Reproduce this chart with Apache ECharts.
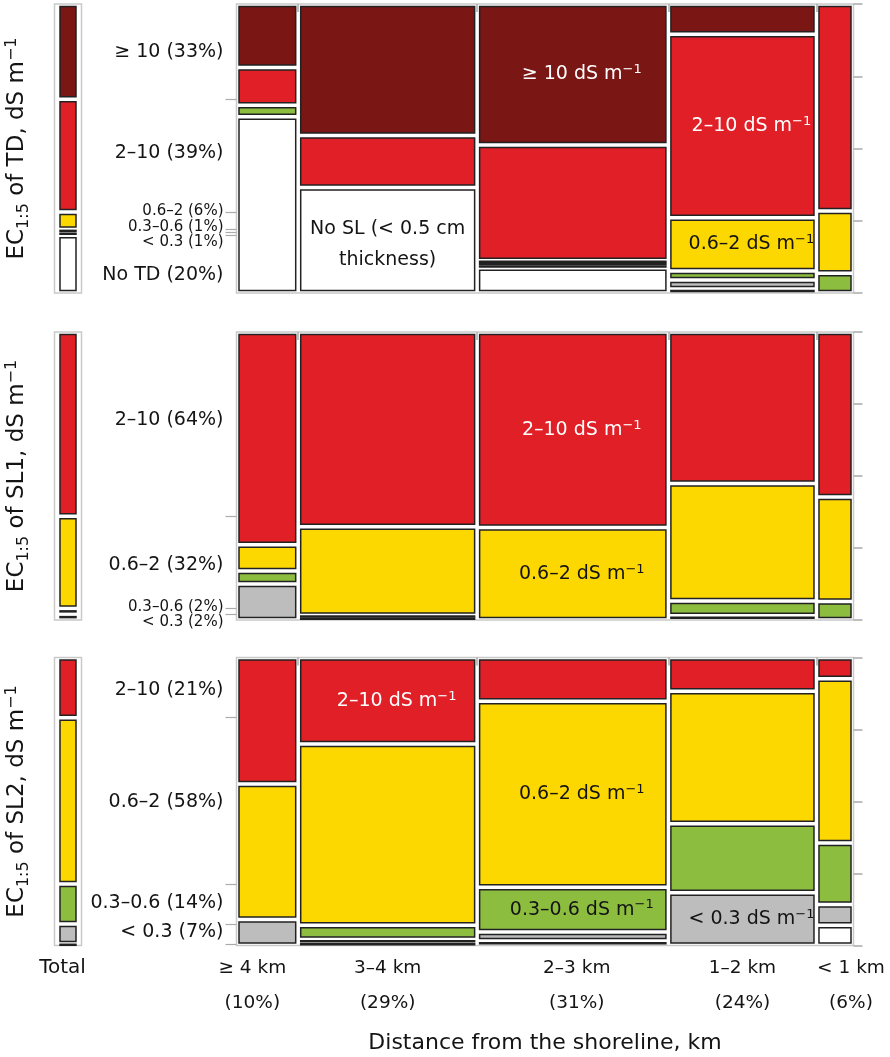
<!DOCTYPE html>
<html>
<head>
<meta charset="utf-8">
<script src="https://cdn.jsdelivr.net/npm/echarts@6/dist/echarts.min.js"></script>
<style>
  html, body { margin: 0; padding: 0; background: #ffffff; }
  #chart { width: 890px; height: 1057px; }
</style>
</head>
<body>
<div id="chart"></div>
<script>
// Distance classes from the shoreline and their share of the sampled area (%)
const columnNames = ["≥ 4 km", "3–4 km", "2–3 km", "1–2 km", "< 1 km"];
const columnShares = [10, 29, 31, 24, 6];

// EC1:5 of the top deposit (TD), share of each class within every distance column (%)
const tdClasses = ["≥ 10", "2–10", "0.6–2", "0.3–0.6", "< 0.3", "No TD"];
const tdTotal = [33, 39, 6, 1, 1, 20];
const tdGe10 = [22, 45.5, 48.8, 10.5, 0];
const td2to10 = [13, 18, 40, 63.5, 71.6];
const td06to2 = [0, 0, 0.8, 18.5, 21.6];
const td03to06 = [4, 0, 0.8, 3.1, 6.8];
const tdBelow03 = [0, 0, 0.9, 3.1, 0];
const tdNone = [61, 36.5, 8.7, 1.4, 0];

// EC1:5 of soil layer 1 (SL1)
const sl1Classes = ["2–10", "0.6–2", "0.3–0.6", "< 0.3"];
const sl1Total = [64, 32, 2, 2];
const sl1From2to10 = [73.9, 67.6, 67.9, 52.6, 57.3];
const sl1From06to2 = [9.1, 30.8, 32.1, 40.8, 36.3];
const sl1From03to06 = [4.5, 0.8, 0, 5.1, 6.4];
const sl1Below03 = [12.5, 0.8, 0, 1.5, 0];

// EC1:5 of soil layer 2 (SL2)
const sl2Classes = ["2–10", "0.6–2", "0.3–0.6", "< 0.3", "No SL"];
const sl2Total = [21, 58, 14, 7, 0.5];
const sl2From2to10 = [43.9, 30, 15.2, 11.7, 7.4];
const sl2From06to2 = [47.1, 63, 64.5, 46, 57];
const sl2From03to06 = [0, 4.9, 15.5, 24, 21.4];
const sl2Below03 = [9, 1.2, 3.1, 18.3, 7.2];
const sl2None = [0, 0.9, 1.6, 0, 7];

// ---- styling ----
const FONT = "DejaVu Sans";
const INK = "#141414";
const FRAME = "#c9c9c9";
const TICK = "#ababab";
const EDGE = "#222222";
const GAP = 5;
const DARK_RED = "#7a1614", RED = "#e11f26", YELLOW = "#fdd700",
      GREEN = "#8cbd3f", GREY = "#bdbdbd", WHITE = "#ffffff";

const panels = [
  {
    key: "TD", classes: tdClasses, total: tdTotal,
    byClass: [tdGe10, td2to10, td06to2, td03to06, tdBelow03, tdNone],
    colors: [DARK_RED, RED, YELLOW, GREEN, GREY, WHITE],
    labelled: 6, small: [2, 3, 4], nudges: [0, -3, -10, -4, 8, 11],
    top: 4, height: 289
  },
  {
    key: "SL1", classes: sl1Classes, total: sl1Total,
    byClass: [sl1From2to10, sl1From06to2, sl1From03to06, sl1Below03],
    colors: [RED, YELLOW, GREEN, GREY],
    labelled: 4, small: [2, 3], nudges: [-4, 3, -4, 5],
    top: 332, height: 288
  },
  {
    key: "SL2", classes: sl2Classes, total: sl2Total,
    byClass: [sl2From2to10, sl2From06to2, sl2From03to06, sl2Below03, sl2None],
    colors: [RED, YELLOW, GREEN, GREY, WHITE],
    labelled: 4, small: [], nudges: [2, 1, -1, -2],
    top: 657.5, height: 288
  }
];

// Text written inside individual cells
const cellNotes = [
  { panel: 0, col: 2, cls: 0, text: "≥ 10 dS m", sup: "−1", color: "#ffffff" },
  { panel: 0, col: 1, cls: 5, text: "No SL (< 0.5 cm\nthickness)", color: INK, lineHeight: 31 },
  { panel: 0, col: 3, cls: 1, text: "2–10 dS m", sup: "−1", color: "#ffffff" },
  { panel: 0, col: 3, cls: 2, text: "0.6–2 dS m", sup: "−1", color: INK },
  { panel: 1, col: 2, cls: 0, text: "2–10 dS m", sup: "−1", color: "#ffffff" },
  { panel: 1, col: 2, cls: 1, text: "0.6–2 dS m", sup: "−1", color: INK },
  { panel: 2, col: 1, cls: 0, text: "2–10 dS m", sup: "−1", color: "#ffffff" },
  { panel: 2, col: 2, cls: 1, text: "0.6–2 dS m", sup: "−1", color: INK },
  { panel: 2, col: 2, cls: 2, text: "0.3–0.6 dS m", sup: "−1", color: INK },
  { panel: 2, col: 3, cls: 3, text: "< 0.3 dS m", sup: "−1", color: INK }
];

// horizontal nudges for the distance labels under the narrow outer columns
const columnLabelNudges = [-15, 0, 4, 0, 16];

// ---- helpers ----
function spans(values) {
  const sum = values.reduce((a, b) => a + b, 0);
  let acc = 0;
  return values.map(v => {
    const s = acc / sum;
    acc += v;
    return [s, acc / sum, v];
  });
}
const columnSpans = spans(columnShares);
const columnBoundaries = columnSpans.slice(0, -1).map(s => s[1]);

function noteRich(note) {
  const lines = note.text.split("\n");
  return lines.map((l, i) => "{b|" + l + "}" +
    (i === lines.length - 1 && note.sup ? "{s|" + note.sup + "}" : "")).join("\n");
}

function cellRenderer(panelIndex, isTotal) {
  const p = panels[panelIndex];
  return function (params, api) {
    const col = api.value(0), cls = api.value(1);
    const vals = isTotal ? p.total : p.byClass.map(a => a[col]);
    const ys = spans(vals)[cls];
    if (!(ys[2] > 0)) return { type: "group", children: [] };
    const xs = isTotal ? [0, 1] : columnSpans[col];
    const a = api.coord([xs[0], ys[0]]);
    const b = api.coord([xs[1], ys[1]]);
    const x0 = Math.min(a[0], b[0]) + GAP / 2, x1 = Math.max(a[0], b[0]) - GAP / 2;
    let y0 = Math.min(a[1], b[1]) + GAP / 2, y1 = Math.max(a[1], b[1]) - GAP / 2;
    if (y1 - y0 < 1) {
      const m = (a[1] + b[1]) / 2;
      y0 = m - 0.5; y1 = m + 0.5;
    }
    const children = [{
      type: "rect",
      shape: { x: x0, y: y0, width: x1 - x0, height: y1 - y0 },
      style: { fill: p.colors[cls], stroke: EDGE, lineWidth: 1.5 }
    }];
    if (!isTotal) {
      const note = cellNotes.find(n => n.panel === panelIndex && n.col === col && n.cls === cls);
      if (note) {
        const lh = note.lineHeight || 22;
        children.push({
          type: "text",
          x: (x0 + x1) / 2 + (note.sup ? 9 : 0),
          y: (y0 + y1) / 2 + (note.lineHeight ? 4 : 0),
          z2: 10,
          style: {
            text: noteRich(note),
            align: "center", verticalAlign: "middle",
            fill: note.color,
            rich: {
              b: { fontSize: 19, fontFamily: FONT, fill: note.color, lineHeight: lh },
              s: { fontSize: 13, fontFamily: FONT, fill: note.color, lineHeight: 13, verticalAlign: "top" }
            }
          }
        });
      }
    }
    return { type: "group", children: children };
  };
}

function classLabelRenderer(panelIndex) {
  const p = panels[panelIndex];
  return function (params, api) {
    const i = api.value(0);
    const ys = spans(p.total)[i];
    const pt = api.coord([0, (ys[0] + ys[1]) / 2]);
    const small = p.small.indexOf(i) >= 0;
    return {
      type: "text",
      x: pt[0] - 13,
      y: pt[1] + p.nudges[i],
      style: {
        text: p.classes[i] + " (" + p.total[i] + "%)",
        align: "right", verticalAlign: "middle",
        fill: INK, fontFamily: FONT, fontSize: small ? 15 : 19
      }
    };
  };
}

function columnLabelRenderer(params, api) {
  const i = api.value(0);
  const s = columnSpans[i];
  const pt = api.coord([(s[0] + s[1]) / 2, 1]);
  return {
    type: "text",
    x: pt[0] + columnLabelNudges[i],
    y: pt[1] + 5,
    style: {
      text: columnNames[i] + "\n(" + columnShares[i] + "%)",
      align: "center", verticalAlign: "top",
      fill: INK, fontFamily: FONT, fontSize: 18.5, lineHeight: 35
    }
  };
}

// ---- option assembly ----
const hidden = { axisLine: { show: false }, axisTick: { show: false }, axisLabel: { show: false }, splitLine: { show: false } };
const grids = [], xAxes = [], yAxes = [], series = [];

panels.forEach((p, k) => {
  const gT = grids.length;
  grids.push({ left: 54.5, top: p.top, width: 27, height: p.height, show: true,
               borderColor: FRAME, borderWidth: 1.5, backgroundColor: "rgba(0,0,0,0)" });
  const gM = grids.length;
  grids.push({ left: 236.5, top: p.top, width: 617, height: p.height, show: true,
               borderColor: FRAME, borderWidth: 1.5, backgroundColor: "rgba(0,0,0,0)" });

  const xT = xAxes.length;
  xAxes.push(Object.assign({}, hidden, {
    type: "value", gridIndex: gT, min: -0.143, max: 1.143,
    name: k === 2 ? "Total" : "", nameLocation: "middle", nameGap: 12,
    nameTextStyle: { fontFamily: FONT, fontSize: 20, color: INK, verticalAlign: "top", padding: [0, 11, 0, 0] }
  }));
  const xM = xAxes.length;
  xAxes.push(Object.assign({}, hidden, {
    type: "value", gridIndex: gM, min: 0, max: 1,
    axisTick: { show: true, customValues: columnBoundaries, length: 8, lineStyle: { color: TICK, width: 1.5 } },
    name: k === 2 ? "Distance from the shoreline, km" : "", nameLocation: "middle", nameGap: 87,
    nameTextStyle: { fontFamily: FONT, fontSize: 22, color: INK, verticalAlign: "top" }
  }));

  const yT = yAxes.length;
  yAxes.push(Object.assign({}, hidden, {
    type: "value", gridIndex: gT, min: 0, max: 1, inverse: true,
    name: "{b|EC}{sub|1:5}{b| of " + p.key + ", dS m}{sup|−1}",
    nameLocation: "middle", nameRotate: 90, nameGap: 23,
    nameTextStyle: {
      color: INK, fontFamily: FONT,
      rich: {
        b: { fontSize: 23, fontFamily: FONT, color: INK, lineHeight: 28 },
        sub: { fontSize: 16, fontFamily: FONT, color: INK, lineHeight: 16, verticalAlign: "bottom" },
        sup: { fontSize: 16, fontFamily: FONT, color: INK, lineHeight: 16, verticalAlign: "top" }
      }
    }
  }));
  const totalBoundaries = spans(p.total).slice(0, -1).map(s => s[1]);
  yAxes.push(Object.assign({}, hidden, {
    type: "value", gridIndex: gM, position: "left", min: 0, max: 1, inverse: true,
    axisTick: { show: true, customValues: totalBoundaries, length: 11, lineStyle: { color: TICK, width: 1.2 } }
  }));
  const yR = yAxes.length;
  yAxes.push(Object.assign({}, hidden, {
    type: "value", gridIndex: gM, position: "right", min: 0, max: 1, interval: 0.25, inverse: true,
    axisTick: { show: true, length: 9, lineStyle: { color: TICK, width: 1.5 } }
  }));

  series.push({
    type: "custom", xAxisIndex: xT, yAxisIndex: yT, silent: true,
    renderItem: cellRenderer(k, true),
    data: p.total.map((_, i) => [0, i])
  });
  const pairs = [];
  columnShares.forEach((_, c) => p.classes.forEach((_, i) => pairs.push([c, i])));
  series.push({
    type: "custom", xAxisIndex: xM, yAxisIndex: yR, silent: true,
    renderItem: cellRenderer(k, false),
    data: pairs
  });
  series.push({
    type: "custom", xAxisIndex: xM, yAxisIndex: yR, silent: true,
    renderItem: classLabelRenderer(k),
    data: p.classes.slice(0, p.labelled).map((_, i) => [i])
  });
  if (k === 2) {
    series.push({
      type: "custom", xAxisIndex: xM, yAxisIndex: yR, silent: true,
      renderItem: columnLabelRenderer,
      data: columnNames.map((_, i) => [i])
    });
  }
});

const chart = echarts.init(document.getElementById("chart"), null, { renderer: "canvas" });
chart.setOption({
  animation: false,
  backgroundColor: "#ffffff",
  textStyle: { fontFamily: FONT },
  grid: grids,
  xAxis: xAxes,
  yAxis: yAxes,
  series: series
});
</script>
</body>
</html>
